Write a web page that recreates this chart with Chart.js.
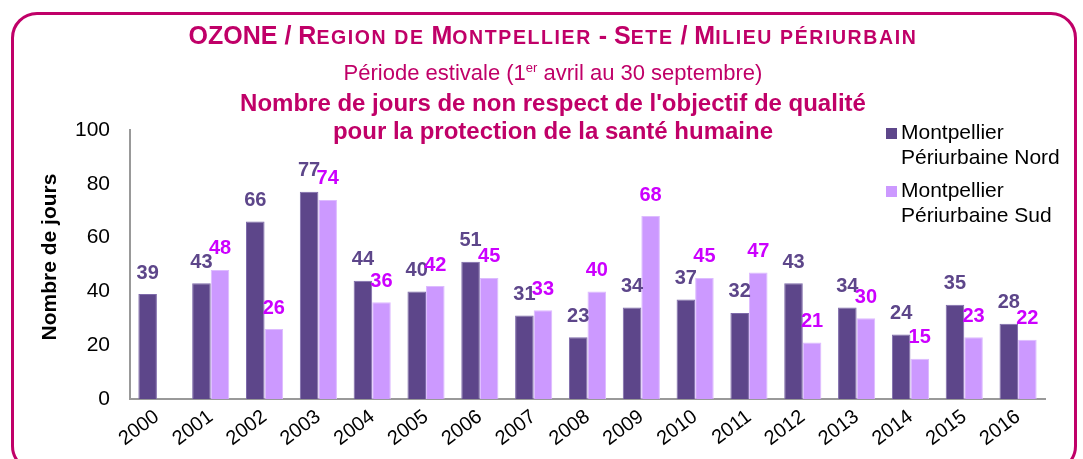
<!DOCTYPE html>
<html>
<head>
<meta charset="utf-8">
<script src="https://cdn.jsdelivr.net/npm/chart.js@4/dist/chart.umd.min.js"></script>
<style>
  html, body { margin: 0; padding: 0; background: #fff; }
  #wrap { position: relative; width: 1083px; height: 459px; overflow: hidden; font-family: "Liberation Sans", Arial, sans-serif; }
  #frame { position: absolute; left: 11px; top: 12px; width: 1066px; height: 460px; border: 3px solid #C00068; border-radius: 26px; box-sizing: border-box; }
  .t { position: absolute; left: 0; width: 1106px; text-align: center; color: #C00068; white-space: nowrap; line-height: 1.15; }
  #t1 { top: 21px; font-size: 25px; font-weight: bold; }
  #t1 .sc { font-size: 19.5px; letter-spacing: 1.6px; }
  #t2 { top: 60px; font-size: 22px; }
  #t2 sup { font-size: 13px; vertical-align: 8px; line-height: 0; }
  #t3 { top: 89px; font-size: 24px; font-weight: bold; }
  #t4 { top: 117px; font-size: 24px; font-weight: bold; }
  canvas { position: absolute; left: 0; top: 0; }
</style>
</head>
<body>
<div id="wrap">
  <div id="frame"></div>
  <canvas id="c" width="1083" height="459"></canvas>
  <div class="t" id="t1">OZONE / R<span class="sc">EGION DE</span> M<span class="sc">ONTPELLIER</span> - S<span class="sc">ETE</span> / M<span class="sc">ILIEU PÉRIURBAIN</span></div>
  <div class="t" id="t2">Période estivale (1<sup>er</sup> avril au 30 septembre)</div>
  <div class="t" id="t3">Nombre de jours de non respect de l'objectif de qualité</div>
  <div class="t" id="t4">pour la protection de la santé humaine</div>
</div>
<script>
const years = ['2000','2001','2002','2003','2004','2005','2006','2007','2008','2009','2010','2011','2012','2013','2014','2015','2016'];
const nordValues = [39, 43, 66, 77, 44, 40, 51, 31, 23, 34, 37, 32, 43, 34, 24, 35, 28];
const sudValues  = [null, 48, 26, 74, 36, 42, 45, 33, 40, 68, 45, 47, 21, 30, 15, 23, 22];
const seriesNames = [['Montpellier', 'Périurbaine Nord'], ['Montpellier', 'Périurbaine Sud']];
const yTicks = [0, 20, 40, 60, 80, 100];
const yTitle = 'Nombre de jours';

const DARK = '#5D468A';
const LIGHT = '#CC99FF';
const LABEL_COLORS = ['#5D468A', '#CC00FF'];
const FONT = '"Liberation Sans", Arial, sans-serif';

const valueLabels = {
  id: 'valueLabels',
  afterDatasetsDraw(chart) {
    const ctx = chart.ctx;
    ctx.save();
    ctx.font = 'bold 20px ' + FONT;
    ctx.textAlign = 'center';
    ctx.textBaseline = 'middle';
    chart.data.datasets.forEach((ds, i) => {
      const meta = chart.getDatasetMeta(i);
      meta.data.forEach((bar, j) => {
        const v = ds.data[j];
        if (v === null || v === undefined) return;
        ctx.fillStyle = LABEL_COLORS[i];
        ctx.fillText(String(v), bar.x, bar.y - 21);
      });
    });
    ctx.restore();
  }
};

const sideLegend = {
  id: 'sideLegend',
  afterDraw(chart) {
    const ctx = chart.ctx;
    ctx.save();
    ctx.font = '21px ' + FONT;
    ctx.textBaseline = 'middle';
    ctx.textAlign = 'left';
    const startY = [133, 191];
    chart.data.datasets.forEach((ds, i) => {
      const y0 = startY[i];
      ctx.fillStyle = ds.backgroundColor;
      ctx.fillRect(886, y0 - 5, 11, 11);
      ctx.fillStyle = '#000';
      ds.label.forEach((line, k) => {
        ctx.fillText(line, 901, y0 + k * 25);
      });
    });
    // y axis title
    ctx.font = 'bold 21px ' + FONT;
    ctx.fillStyle = '#000';
    ctx.textAlign = 'center';
    ctx.translate(50, 257);
    ctx.rotate(-Math.PI / 2);
    ctx.fillText(yTitle, 0, 0);
    ctx.restore();
  }
};

new Chart(document.getElementById('c'), {
  type: 'bar',
  data: {
    labels: years,
    datasets: [
      { label: seriesNames[0], data: nordValues, backgroundColor: DARK, borderColor: '#7E6AAA', borderWidth: 1 },
      { label: seriesNames[1], data: sudValues, backgroundColor: LIGHT, borderColor: '#DDBBFF', borderWidth: 1 }
    ]
  },
  options: {
    responsive: false,
    animation: false,
    devicePixelRatio: 1,
    layout: { padding: { left: 0, right: 38, top: 130, bottom: 0 } },
    plugins: { legend: { display: false }, tooltip: { enabled: false } },
    datasets: { bar: { categoryPercentage: 0.69, barPercentage: 1.0 } },
    scales: {
      x: {
        grid: { display: false, drawTicks: false },
        border: { display: true, color: '#999', width: 2 },
        ticks: { color: '#000', font: { size: 20, family: FONT }, minRotation: 37, maxRotation: 37, padding: 6 },
        afterFit(s) { s.height = 60; }
      },
      y: {
        min: 0, max: 100,
        afterBuildTicks(s) { s.ticks = yTicks.map(v => ({ value: v })); },
        grid: { display: false, drawTicks: false },
        border: { display: true, color: '#999', width: 2 },
        ticks: { color: '#000', font: { size: 21, family: FONT }, padding: 20 },
        title: { display: false },
        afterFit(s) { s.width = 130; }
      }
    }
  },
  plugins: [valueLabels, sideLegend]
});
</script>
</body>
</html>
